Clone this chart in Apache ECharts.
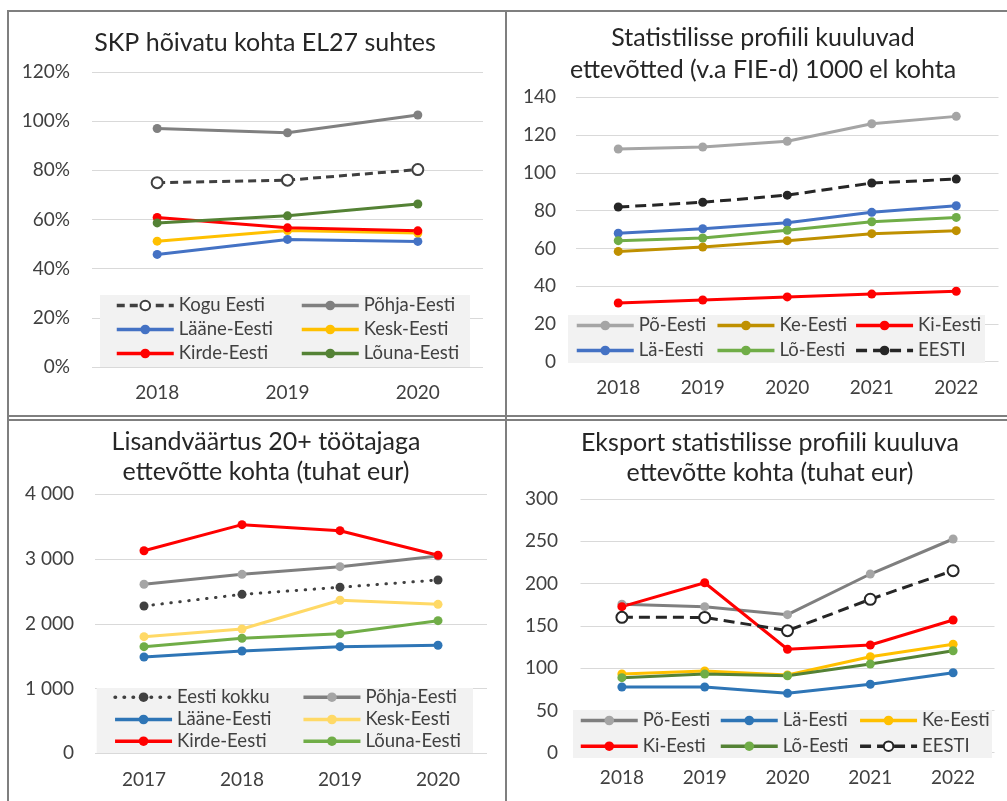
<!DOCTYPE html>
<html>
<head>
<meta charset="utf-8">
<title>Regionaalsed näitajad</title>
<script src="https://cdn.jsdelivr.net/npm/echarts@6/dist/echarts.min.js"></script>
<style>
  html, body { margin: 0; padding: 0; background: #fff; }
  .page { position: relative; width: 1007px; height: 801px; overflow: hidden; }
  .chart { position: absolute; }
  .frame { position: absolute; background: #7f7f7f; }
</style>
</head>
<body>
<div class="page">
  <div class="frame" style="left:7px;top:10px;width:1000px;height:2px"></div>
  <div class="frame" style="left:7px;top:10px;width:2px;height:791px"></div>
  <div class="frame" style="left:505px;top:10px;width:2px;height:791px"></div>
  <div class="frame" style="left:7px;top:415px;width:1000px;height:2px"></div>
  <div class="frame" style="left:7px;top:419px;width:1000px;height:2px"></div>
  <div id="c1" class="chart" style="left:9px;top:12px;width:496px;height:403px"></div>
  <div id="c2" class="chart" style="left:507px;top:12px;width:500px;height:403px"></div>
  <div id="c3" class="chart" style="left:9px;top:421px;width:496px;height:380px"></div>
  <div id="c4" class="chart" style="left:507px;top:421px;width:500px;height:380px"></div>
</div>
<script>
// ---- andmed ----
// SKP hõivatu kohta EL27 suhtes (%)
var years1 = ["2018", "2019", "2020"];
var koguEesti1 = [75, 76, 80.3];
var pohja1 = [97, 95.3, 102.5];
var laane1 = [45.8, 51.9, 51.1];
var kesk1 = [51.2, 55.5, 54.5];
var kirde1 = [60.8, 56.6, 55.4];
var louna1 = [58.6, 61.5, 66.3];

// Statistilisse profiili kuuluvad ettevõtted 1000 el kohta
var years2 = ["2018", "2019", "2020", "2021", "2022"];
var po2 = [112.6, 113.7, 116.7, 126, 129.9];
var ke2 = [58.4, 60.7, 64.1, 67.8, 69.4];
var ki2 = [31.1, 32.7, 34.3, 35.8, 37.3];
var la2 = [68, 70.4, 73.6, 79.1, 82.6];
var lo2 = [64.1, 65.5, 69.6, 74.1, 76.4];
var eesti2 = [81.9, 84.4, 88.2, 94.6, 96.7];

// Lisandväärtus 20+ töötajaga ettevõtte kohta (tuhat eur)
var years3 = ["2017", "2018", "2019", "2020"];
var eestiKokku3 = [2275, 2455, 2564, 2677];
var pohja3 = [2610, 2764, 2882, 3047];
var laane3 = [1487, 1580, 1647, 1668];
var kesk3 = [1801, 1920, 2363, 2301];
var kirde3 = [3129, 3531, 3438, 3058];
var louna3 = [1647, 1776, 1847, 2048];

// Eksport statistilisse profiili kuuluva ettevõtte kohta (tuhat eur)
var years4 = ["2018", "2019", "2020", "2021", "2022"];
var po4 = [175.5, 172.7, 163.2, 211.3, 252.7];
var la4 = [77.7, 77.7, 70.2, 80.9, 94.6];
var ke4 = [93, 96.6, 91.9, 113.5, 128.2];
var ki4 = [172.7, 201, 122.3, 127.4, 156.9];
var lo4 = [88.7, 93, 91, 104.9, 120.6];
var eesti4 = [160.1, 160, 144.3, 181.4, 215.3];

var FONT = "Lato";
var TEXT = "#404040";
var GRID = "#d9d9d9";

function line(name, data, color, opt) {
  opt = opt || {};
  return {
    name: name,
    type: "line",
    data: data,
    symbol: opt.empty ? "emptyCircle" : "circle",
    symbolSize: opt.size || 9,
    showAllSymbol: true,
    lineStyle: {
      color: color,
      width: 3,
      type: opt.dash || "solid",
      cap: opt.cap || "butt"
    },
    itemStyle: {
      color: opt.marker || color,
      borderColor: opt.marker || color,
      borderWidth: opt.empty ? 2 : 0
    }
  };
}

// eraldi legend igale kirjele, et veerud oleks joondatud
function legends(names, cols, rows) {
  return names.map(function(n, i) {
    return {
      data: [n],
      left: cols[i % cols.length],
      top: rows[Math.floor(i / cols.length)] - 10,
      padding: 0,
      itemWidth: 57,
      itemHeight: 12,
      selectedMode: false,
      lineStyle: { width: 3.5 },
      textStyle: { fontFamily: FONT, fontSize: 18.5, color: TEXT }
    };
  });
}

function baseOption(cfg) {
  return {
    animation: false,
    title: {
      text: cfg.title,
      left: cfg.titleX,
      top: cfg.titleTop,
      padding: 0,
      textAlign: "center",
      textStyle: {
        fontFamily: FONT,
        fontSize: 25,
        fontWeight: "normal",
        color: "#262626",
        lineHeight: cfg.titleLH
      }
    },
    grid: cfg.grid,
    graphic: [
      {
        type: "rect",
        z: 1,
        shape: cfg.legendBox,
        style: { fill: "#f2f2f2" }
      }
    ],
    legend: legends(cfg.names, cfg.cols, cfg.rows),
    xAxis: {
      type: "category",
      data: cfg.categories,
      boundaryGap: true,
      axisLine: { show: false },
      axisTick: { show: false },
      axisLabel: {
        margin: cfg.xMargin,
        fontFamily: FONT,
        fontSize: 19,
        color: TEXT
      }
    },
    yAxis: {
      type: "value",
      min: 0,
      max: cfg.max,
      interval: cfg.interval,
      axisLine: { show: false },
      axisTick: { show: false },
      splitLine: { lineStyle: { color: GRID, width: 1 } },
      axisLabel: {
        margin: cfg.yMargin,
        fontFamily: FONT,
        fontSize: 19,
        color: TEXT,
        formatter: cfg.yFormat
      }
    },
    series: cfg.series
  };
}

// tuhandete eraldaja tühikuga
function spaced(v) {
  return String(v).replace(/\B(?=(\d{3})+(?!\d))/g, " ");
}

var chart1 = echarts.init(document.getElementById("c1"));
chart1.setOption(baseOption({
  title: "SKP hõivatu kohta EL27 suhtes",
  titleX: 256, titleTop: 17, titleLH: 28,
  grid: { left: 83, top: 60, width: 391, height: 295 },
  legendBox: { x: 91, y: 283, width: 370, height: 72 },
  names: ["Kogu Eesti", "Põhja-Eesti", "Lääne-Eesti", "Kesk-Eesti", "Kirde-Eesti", "Lõuna-Eesti"],
  cols: [106, 291],
  rows: [294, 318, 342],
  categories: years1,
  max: 120, interval: 20,
  xMargin: 16, yMargin: 22,
  yFormat: "{value}%",
  series: [
    line("Kogu Eesti", koguEesti1, "#404040", { empty: true, size: 11, dash: [8, 5] }),
    line("Põhja-Eesti", pohja1, "#808080"),
    line("Lääne-Eesti", laane1, "#4472c4"),
    line("Kesk-Eesti", kesk1, "#ffc000"),
    line("Kirde-Eesti", kirde1, "#ff0000"),
    line("Lõuna-Eesti", louna1, "#548235")
  ]
}));

var chart2 = echarts.init(document.getElementById("c2"));
chart2.setOption(baseOption({
  title: "Statistilisse profiili kuuluvad\nettevõtted (v.a FIE-d) 1000 el kohta",
  titleX: 256, titleTop: 10, titleLH: 32,
  grid: { left: 69, top: 85.3, width: 422.5, height: 264.4 },
  legendBox: { x: 61, y: 303, width: 417, height: 48 },
  names: ["Põ-Eesti", "Ke-Eesti", "Ki-Eesti", "Lä-Eesti", "Lõ-Eesti", "EESTI"],
  cols: [68, 208.7, 347.3],
  rows: [314, 339],
  categories: years2,
  max: 140, interval: 20,
  xMargin: 17, yMargin: 20,
  series: [
    line("Põ-Eesti", po2, "#a5a5a5"),
    line("Ke-Eesti", ke2, "#bf9000"),
    line("Ki-Eesti", ki2, "#ff0000"),
    line("Lä-Eesti", la2, "#4472c4"),
    line("Lõ-Eesti", lo2, "#70ad47"),
    line("EESTI", eesti2, "#262626", { dash: [11, 6] })
  ]
}));

var chart3 = echarts.init(document.getElementById("c3"));
chart3.setOption(baseOption({
  title: "Lisandväärtus 20+ töötajaga\nettevõtte kohta (tuhat eur)",
  titleX: 257, titleTop: 5.7, titleLH: 30,
  grid: { left: 86, top: 73.3, width: 392, height: 259 },
  legendBox: { x: 87.7, y: 267, width: 376.3, height: 65 },
  names: ["Eesti kokku", "Põhja-Eesti", "Lääne-Eesti", "Kesk-Eesti", "Kirde-Eesti", "Lõuna-Eesti"],
  cols: [104.3, 292.7],
  rows: [276.7, 299, 320.7],
  categories: years3,
  max: 4000, interval: 1000,
  xMargin: 17, yMargin: 21,
  yFormat: spaced,
  series: [
    line("Eesti kokku", eestiKokku3, "#404040", { dash: [0.5, 8.5], cap: "round" }),
    line("Põhja-Eesti", pohja3, "#7f7f7f", { marker: "#a5a5a5" }),
    line("Lääne-Eesti", laane3, "#2e75b6"),
    line("Kesk-Eesti", kesk3, "#ffd966"),
    line("Kirde-Eesti", kirde3, "#ff0000"),
    line("Lõuna-Eesti", louna3, "#70ad47")
  ]
}));

var chart4 = echarts.init(document.getElementById("c4"));
chart4.setOption(baseOption({
  title: "Eksport statistilisse profiili kuuluva\nettevõtte kohta (tuhat eur)",
  titleX: 263, titleTop: 7.3, titleLH: 30,
  grid: { left: 73.5, top: 78, width: 414, height: 253.7 },
  legendBox: { x: 66, y: 289, width: 419, height: 48 },
  names: ["Põ-Eesti", "Lä-Eesti", "Ke-Eesti", "Ki-Eesti", "Lõ-Eesti", "EESTI"],
  cols: [72, 212, 351.3],
  rows: [300, 325.7],
  categories: years4,
  max: 300, interval: 50,
  xMargin: 15.5, yMargin: 22.5,
  series: [
    line("Põ-Eesti", po4, "#7f7f7f", { marker: "#a5a5a5" }),
    line("Lä-Eesti", la4, "#2e75b6"),
    line("Ke-Eesti", ke4, "#ffc000"),
    line("Ki-Eesti", ki4, "#ff0000"),
    line("Lõ-Eesti", lo4, "#548235", { marker: "#70ad47" }),
    line("EESTI", eesti4, "#262626", { empty: true, size: 11, dash: [11, 6] })
  ]
}));
</script>
</body>
</html>
